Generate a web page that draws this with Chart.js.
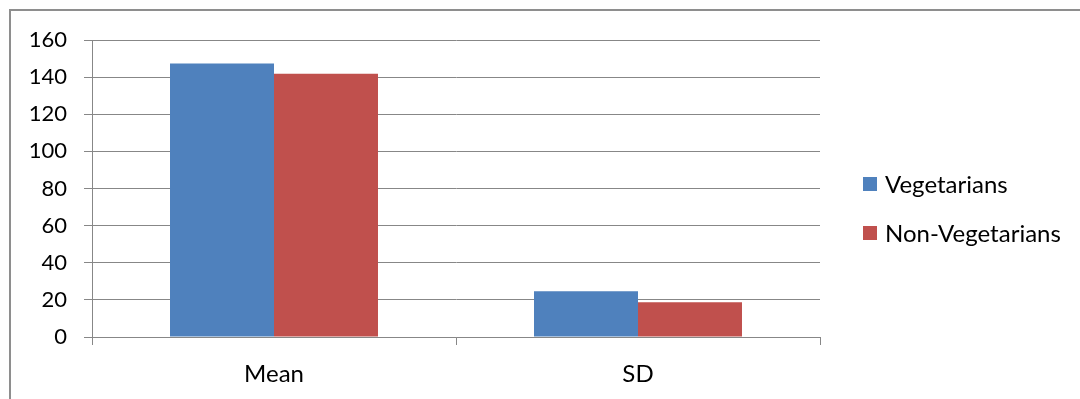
<!DOCTYPE html>
<html>
<head>
<meta charset="utf-8">
<script src="https://cdn.jsdelivr.net/npm/chart.js@4.4.1/dist/chart.umd.min.js"></script>
<style>
  html, body { margin: 0; padding: 0; background: #ffffff; }
  #wrap { width: 1080px; height: 399px; }
</style>
</head>
<body>
<div id="wrap"><canvas id="c" width="1080" height="399"></canvas></div>
<script>
// Categories and series values
const categories = ['Mean', 'SD'];
const vegetarians = [147.4, 24.6];
const nonVegetarians = [141.8, 18.7];
const seriesNames = ['Vegetarians', 'Non-Vegetarians'];

// Value axis range
const yMin = 0;
const yMax = 160;
const yStep = 20;

const FONT = 'Lato, "Liberation Sans", sans-serif';
const GRID = '#878787';

// Outer frame (top and left edges of the surrounding box)
const framePlugin = {
  id: 'frame',
  beforeDraw(chart) {
    const ctx = chart.ctx;
    ctx.save();
    ctx.strokeStyle = '#8e8e8e';
    ctx.lineWidth = 2;
    ctx.beginPath();
    ctx.moveTo(10, chart.height);
    ctx.lineTo(10, 10);
    ctx.lineTo(chart.width, 10);
    ctx.stroke();
    ctx.restore();
  }
};

// Legend on the right, drawn from the datasets
const sideLegend = {
  id: 'sideLegend',
  afterDraw(chart) {
    const ctx = chart.ctx;
    const area = chart.chartArea;
    const x0 = area.right + 43;
    const rows = [184, 233];
    ctx.save();
    ctx.font = '24px ' + FONT;
    ctx.textBaseline = 'middle';
    ctx.textAlign = 'left';
    chart.data.datasets.forEach((ds, i) => {
      const cy = rows[i];
      ctx.fillStyle = ds.backgroundColor;
      ctx.fillRect(x0, cy - 7, 14, 14);
      ctx.fillStyle = '#000000';
      ctx.fillText(ds.label, x0 + 22, cy + 1);
    });
    ctx.restore();
  }
};

new Chart(document.getElementById('c'), {
  type: 'bar',
  data: {
    labels: categories,
    datasets: [
      { label: seriesNames[0], data: vegetarians, backgroundColor: '#4F81BD', borderWidth: 0 },
      { label: seriesNames[1], data: nonVegetarians, backgroundColor: '#C0504D', borderWidth: 0 }
    ]
  },
  options: {
    responsive: false,
    devicePixelRatio: 1,
    animation: false,
    layout: { padding: { left: 0, top: 40, right: 260, bottom: 0 } },
    datasets: {
      bar: { categoryPercentage: 0.5714, barPercentage: 1.0 }
    },
    plugins: {
      legend: { display: false },
      tooltip: { enabled: false }
    },
    scales: {
      x: {
        grid: {
          offset: true,
          drawOnChartArea: false,
          drawTicks: true,
          tickLength: 8,
          color: GRID,
          lineWidth: 1
        },
        border: { display: true, color: GRID, width: 1 },
        ticks: { color: '#000000', font: { family: FONT, size: 24 }, padding: 15 },
        afterFit(scale) { scale.height = 62; }
      },
      y: {
        min: yMin,
        max: yMax,
        ticks: {
          stepSize: yStep,
          color: '#000000',
          font: { family: FONT, size: 22 },
          padding: 17
        },
        grid: { color: GRID, lineWidth: 1, tickLength: 8, drawTicks: true },
        border: { display: true, color: GRID, width: 1 },
        afterFit(scale) { scale.width = 92; }
      }
    }
  },
  plugins: [framePlugin, sideLegend]
});
</script>
</body>
</html>
